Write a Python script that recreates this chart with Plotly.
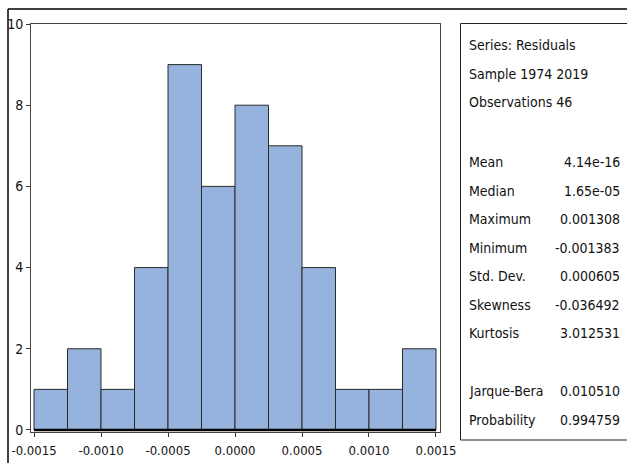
import plotly.graph_objects as go

# Histogram of residuals (bin edges and counts)
bin_edges = [-0.0015, -0.00125, -0.001, -0.00075, -0.0005, -0.00025, 0.0,
             0.00025, 0.0005, 0.00075, 0.001, 0.00125, 0.0015]
counts = [1, 2, 1, 4, 9, 6, 8, 7, 4, 1, 1, 2]

x_tick_vals = [-0.0015, -0.0010, -0.0005, 0.0, 0.0005, 0.0010, 0.0015]
x_tick_text = ["-0.0015", "-0.0010", "-0.0005", "0.0000", "0.0005", "0.0010", "0.0015"]
y_tick_vals = [0, 2, 4, 6, 8, 10]

header_lines = ["Series: Residuals", "Sample 1974 2019", "Observations 46"]
stat_names = ["Mean", "Median", "Maximum", "Minimum", "Std. Dev.", "Skewness", "Kurtosis"]
stat_values = ["4.14e-16", "1.65e-05", "0.001308", "-0.001383", "0.000605", "-0.036492", "3.012531"]
test_names = ["Jarque-Bera", "Probability"]
test_values = ["0.010510", "0.994759"]

FONT = "Liberation Sans Narrow, Arial Narrow, DejaVu Sans Condensed, sans-serif"

W, H = 627, 463
L, R, T, B = 31, 187, 24, 31
PW, PH = W - L - R, H - T - B


def px_x(p):
    return (p - L) / PW


def px_y(p):
    return (H - B - p) / PH


centers = [(a + b) / 2 for a, b in zip(bin_edges[:-1], bin_edges[1:])]
widths = [b - a for a, b in zip(bin_edges[:-1], bin_edges[1:])]

fig = go.Figure(go.Bar(
    x=centers, y=counts, width=widths,
    marker=dict(color="#95B3DC", line=dict(color="#2a2a2a", width=1)),
    hoverinfo="skip",
))

annotations = []


def text(s, xpx, ypx, anchor):
    annotations.append(dict(
        text=s, x=px_x(xpx), y=px_y(ypx), xref="paper", yref="paper",
        xanchor=anchor, yanchor="middle", showarrow=False,
        font=dict(family=FONT, size=14, color="#111"),
    ))


for i, s in enumerate(header_lines):
    text(s, 467, 45 + 28.5 * i, "left")
for i, (n, v) in enumerate(zip(stat_names, stat_values)):
    y = 162 + 28.5 * i
    text(n, 467, y, "left")
    text(v, 622, y, "right")
for i, (n, v) in enumerate(zip(test_names, test_values)):
    y = 391 + 28.5 * i
    text(n, 467, y, "left")
    text(v, 622, y, "right")

shapes = [
    # outer frame (top and left edges)
    dict(type="line", xref="paper", yref="paper", x0=px_x(8), x1=px_x(640),
         y0=px_y(9), y1=px_y(9), line=dict(color="#000", width=1.5)),
    dict(type="line", xref="paper", yref="paper", x0=px_x(8), x1=px_x(8),
         y0=px_y(9), y1=px_y(480), line=dict(color="#000", width=1.5)),
    # statistics box
    dict(type="rect", xref="paper", yref="paper", x0=px_x(460.5), x1=px_x(640),
         y0=px_y(440), y1=px_y(23.5), line=dict(color="#222", width=1)),
    # baseline at zero
    dict(type="line", xref="x", yref="y", x0=bin_edges[0], x1=bin_edges[-1],
         y0=0, y1=0, line=dict(color="#000", width=2.5)),
]

fig.update_layout(
    width=W, height=H,
    margin=dict(l=L, r=R, t=T, b=B, autoexpand=False),
    paper_bgcolor="white", plot_bgcolor="white",
    showlegend=False,
    font=dict(family=FONT, size=13, color="#111"),
    annotations=annotations,
    shapes=shapes,
    xaxis=dict(
        range=[-0.0015224, 0.0015299],
        tickmode="array", tickvals=x_tick_vals, ticktext=x_tick_text,
        ticks="outside", ticklen=4, tickcolor="#333",
        showgrid=False, zeroline=False, automargin=False,
        showline=True, mirror=True, linecolor="#444", linewidth=1,
        ticklabelstandoff=2,
        tickfont=dict(family=FONT, size=13, color="#111"),
    ),
    yaxis=dict(
        range=[-0.05, 10],
        tickmode="array", tickvals=y_tick_vals,
        ticks="outside", ticklen=4, tickcolor="#333",
        showgrid=False, zeroline=False, automargin=False,
        showline=True, mirror=True, linecolor="#444", linewidth=1,
        tickfont=dict(family=FONT, size=14, color="#111"),
    ),
)

fig.write_html("out.html")
